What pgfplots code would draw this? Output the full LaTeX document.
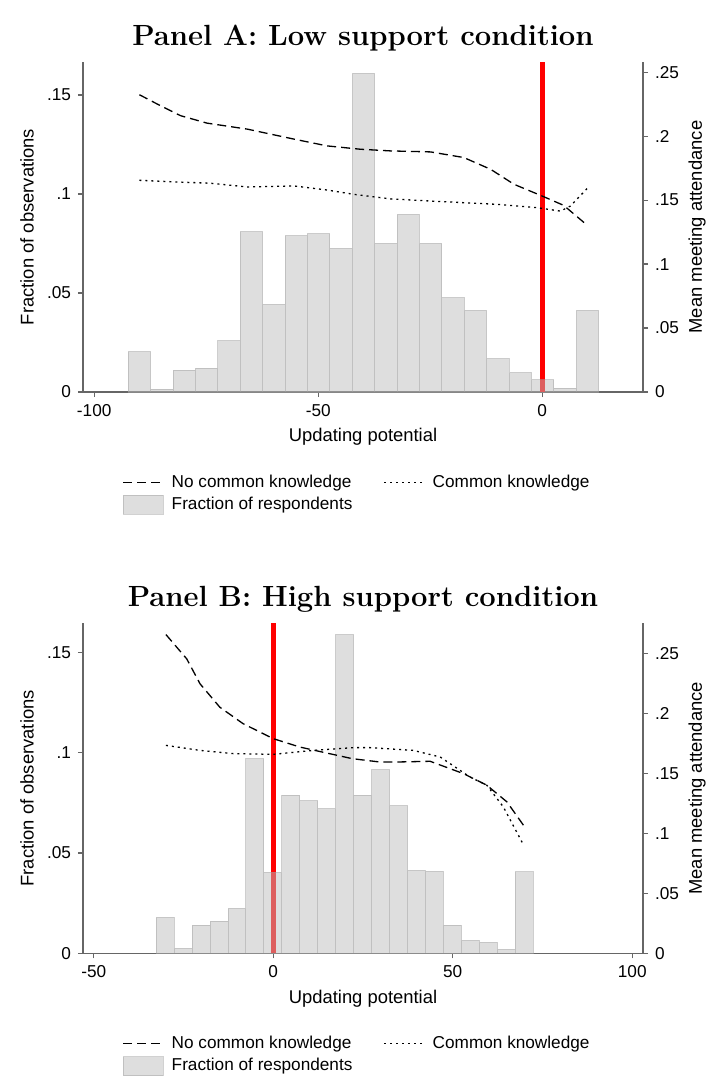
\documentclass[border=0pt]{standalone}
\usepackage{fontspec}
\setsansfont{Liberation Sans}
\usepackage{pgfplots}
\pgfplotsset{compat=1.18}

\definecolor{barfill}{gray}{0.74}
\definecolor{baredge}{gray}{0.64}
\definecolor{axisgray}{gray}{0.4}

\pgfplotsset{
  panel/.style={scale only axis, width=280pt, height=165pt, ymin=0,
    axis line style={axisgray, line width=0.6pt},
    tick style={axisgray, line width=0.6pt},
    tick align=outside, major tick length=2.5pt,
    tick label style={font=\fontsize{8.6}{10}\selectfont\sffamily},
    label style={font=\fontsize{9.2}{11}\selectfont\sffamily},
    /pgf/number format/assume math mode=true},
  leftpanel/.style={panel, axis x line*=bottom, axis y line*=left,
    ytick={0,0.05,0.1,0.15}, yticklabels={0,.05,.1,.15},
    xlabel={Updating potential}, ylabel={Fraction of observations},
    xlabel style={at={(axis description cs:0.5,-0.1364)}, anchor=center},
    ylabel style={at={(axis description cs:-0.1,0.5)}, anchor=center},
    title style={font=\fontsize{14.6}{17}\selectfont\bfseries,
      at={(axis description cs:0.5,1)}, anchor=center, yshift=6pt}},
  rightpanel/.style={panel, hide x axis, axis y line*=right,
    ytick={0,0.05,0.1,0.15,0.2,0.25}, yticklabels={0,.05,.1,.15,.2,.25},
    ylabel={Mean meeting attendance},
    ylabel style={at={(axis description cs:1.0964,0.5)}, anchor=center},
    legend columns=2,
    legend image code/.code={\draw[#1] (0pt,0pt) -- (20pt,0pt);},
    legend style={at={(axis description cs:0.059,-0.225)}, anchor=north west,
      draw=none, fill=none, font=\fontsize{8.6}{10}\selectfont\sffamily,
      legend cell align=left, row sep=-0.5pt,
      /tikz/every odd column/.append style={column sep=2pt},
      /tikz/every even column/.append style={column sep=13.5pt}}},
  nck/.style={black, line width=0.65pt, dash pattern=on 4.5pt off 2.5pt},
  ck/.style={black, line width=0.65pt, dash pattern=on 1pt off 2pt},
  hist/.style={ybar, bar width=5, bar shift=0pt, fill=barfill, fill opacity=0.5,
    draw=baredge, draw opacity=0.5, line width=0.5pt},
  redline/.style={red, line width=2.5pt, forget plot},
}

\begin{document}
\begin{tikzpicture}
\useasboundingbox (-41.5pt,-342pt) rectangle (313pt,196pt);

% Panel A
\begin{axis}[leftpanel, at={(0pt,0pt)}, anchor=south west,
  xmin=-102.5, xmax=22.5, ymax=0.1667,
  xtick={-100,-50,0}, xticklabels={-100,-50,0},
  title={Panel A: Low support condition}]
  \addplot[redline] coordinates {(0,0) (0,0.1667)};
  \addplot[hist] coordinates {
    (-89.9,0.0204) (-84.9,0.0014) (-79.9,0.011) (-74.9,0.012) (-69.9,0.026)
    (-64.9,0.081) (-59.9,0.0443) (-54.9,0.079) (-49.9,0.080) (-44.9,0.0726)
    (-39.9,0.161) (-34.9,0.0751) (-29.9,0.0897) (-24.9,0.0751) (-19.9,0.0477)
    (-14.9,0.0412) (-9.9,0.0168) (-4.9,0.0098) (0.1,0.0061) (5.1,0.0019)
    (10.1,0.0412)};
\end{axis}
\begin{axis}[rightpanel, at={(0pt,0pt)}, anchor=south west,
  xmin=-102.5, xmax=22.5, ymax=0.258]
  \addplot[nck] coordinates {
    (-89.9,0.2324) (-85.2,0.2238) (-80.7,0.216) (-74.8,0.2102) (-65.8,0.2055)
    (-55.4,0.1977) (-48.0,0.1924) (-40.6,0.1898) (-33.9,0.1885) (-24.9,0.1877)
    (-17.5,0.1833) (-11.5,0.1741) (-6.3,0.1624) (0,0.1532) (4.8,0.1459)
    (10.0,0.1305)};
  \addlegendentry{No common knowledge}
  \addplot[ck] coordinates {
    (-89.9,0.1655) (-81.5,0.1642) (-74.0,0.1632) (-65.8,0.1603) (-55.4,0.1611)
    (-48.0,0.1579) (-42.0,0.1545) (-33.9,0.1510) (-24.9,0.1493) (-10.0,0.1467)
    (-1.1,0.1441) (4.1,0.1414) (6.3,0.1454) (10.0,0.159)};
  \addlegendentry{Common knowledge}
  \addlegendimage{legend image code/.code={\draw[fill=barfill, fill opacity=0.5,
    draw=baredge, draw opacity=0.5] (0pt,-4.75pt) rectangle (20pt,4.75pt);}}
  \addlegendentry{Fraction of respondents}
\end{axis}

% Panel B
\begin{axis}[leftpanel, at={(0pt,-280.65pt)}, anchor=south west,
  xmin=-53, xmax=103, ymax=0.1645,
  xtick={-50,0,50,100}, xticklabels={-50,0,50,100},
  title={Panel B: High support condition}]
  \addplot[redline] coordinates {(0,0) (0,0.1645)};
  \addplot[hist] coordinates {
    (-30.1,0.0179) (-25.1,0.0025) (-20.1,0.0141) (-15.1,0.0161) (-10.1,0.0224)
    (-5.1,0.097) (-0.1,0.0403) (4.9,0.0788) (9.9,0.0761) (14.9,0.0721)
    (19.9,0.1589) (24.9,0.0788) (29.9,0.0915) (34.9,0.0736) (39.9,0.0414)
    (44.9,0.0409) (49.9,0.0141) (54.9,0.0065) (59.9,0.0055) (64.9,0.002)
    (69.9,0.0406)};
\end{axis}
\begin{axis}[rightpanel, at={(0pt,-280.65pt)}, anchor=south west,
  xmin=-53, xmax=103, ymax=0.2755]
  \addplot[nck] coordinates {
    (-29.9,0.2661) (-24.1,0.2458) (-20.4,0.225) (-14.9,0.2055) (-8.4,0.1917)
    (0,0.1792) (7.4,0.1722) (14.9,0.1672) (22.0,0.1625) (29.7,0.1597)
    (36.0,0.1598) (43.7,0.1603) (53.0,0.15) (59.5,0.1403) (65.1,0.1264)
    (69.7,0.1069)};
  \addlegendentry{No common knowledge}
  \addplot[ck] coordinates {
    (-29.9,0.1736) (-20.4,0.1694) (-11.1,0.1667) (0,0.1661) (11.1,0.1694)
    (22.3,0.1717) (27.0,0.1717) (39.0,0.1694) (46.5,0.1639) (54.8,0.1472)
    (59.5,0.1403) (64.1,0.1222) (69.5,0.0917)};
  \addlegendentry{Common knowledge}
  \addlegendimage{legend image code/.code={\draw[fill=barfill, fill opacity=0.5,
    draw=baredge, draw opacity=0.5] (0pt,-4.75pt) rectangle (20pt,4.75pt);}}
  \addlegendentry{Fraction of respondents}
\end{axis}
\end{tikzpicture}
\end{document}
